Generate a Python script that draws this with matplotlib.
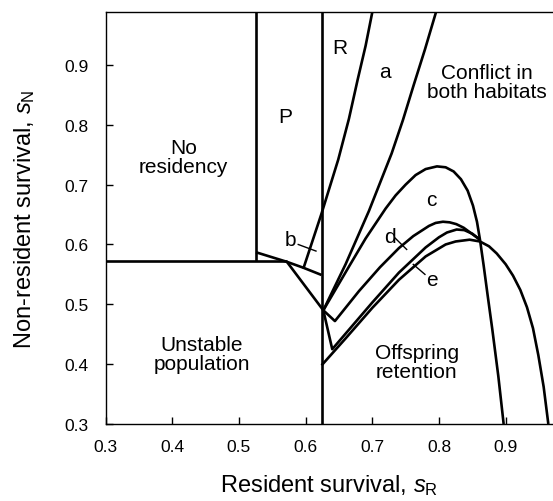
import matplotlib
matplotlib.use("Agg")
import matplotlib.pyplot as plt

plt.rcParams['font.family'] = ['Liberation Sans', 'DejaVu Sans']
plt.rcParams['mathtext.fontset'] = 'custom'
plt.rcParams['mathtext.rm'] = 'Liberation Sans'
plt.rcParams['mathtext.it'] = 'Liberation Sans:italic'

# boundary curves (resident survival, non-resident survival)
left_vert_x = [0.5256, 0.5256]
left_vert_y = [0.988, 0.5717]

horiz_x = [0.30, 0.572]
horiz_y = [0.5717, 0.5717]

main_vert_x = [0.624, 0.624]
main_vert_y = [0.988, 0.30]

p_bottom_x = [0.5256, 0.572, 0.597, 0.624]
p_bottom_y = [0.587, 0.571, 0.561, 0.549]

drop_x = [0.572, 0.6266]
drop_y = [0.571, 0.490]

r_curve_x = [0.5966, 0.624, 0.649, 0.665, 0.678, 0.690, 0.700]
r_curve_y = [0.5595, 0.652, 0.742, 0.810, 0.875, 0.932, 0.988]

a_curve_x = [0.6266, 0.660, 0.695, 0.729, 0.746, 0.762, 0.779, 0.7955]
a_curve_y = [0.490, 0.567, 0.656, 0.752, 0.808, 0.866, 0.926, 0.988]

c_curve_x = [0.6266, 0.645, 0.665, 0.690, 0.720, 0.735, 0.750, 0.765, 0.780,
             0.797, 0.810, 0.822, 0.833, 0.843, 0.851, 0.857, 0.8615, 0.867,
             0.873, 0.880, 0.889, 0.897]
c_curve_y = [0.490, 0.525, 0.563, 0.610, 0.660, 0.682, 0.700, 0.716, 0.726,
             0.7305, 0.729, 0.722, 0.709, 0.690, 0.665, 0.638, 0.608, 0.565,
             0.515, 0.458, 0.380, 0.300]

d_curve_x = [0.6266, 0.644, 0.680, 0.7116, 0.740, 0.7615, 0.785, 0.795, 0.806,
             0.816, 0.826, 0.837, 0.848, 0.8615]
d_curve_y = [0.490, 0.472, 0.522, 0.562, 0.594, 0.614, 0.631, 0.636, 0.638,
             0.637, 0.634, 0.628, 0.619, 0.608]

mid_curve_x = [0.6266, 0.640, 0.660, 0.700, 0.740, 0.780, 0.800, 0.812, 0.8265,
               0.838, 0.850, 0.8615]
mid_curve_y = [0.490, 0.425, 0.451, 0.503, 0.553, 0.595, 0.612, 0.620, 0.625,
               0.624, 0.618, 0.608]

e_curve_x = [0.624, 0.660, 0.700, 0.740, 0.780, 0.810, 0.825, 0.846, 0.8615,
             0.875, 0.8866, 0.900, 0.911, 0.922, 0.932, 0.941, 0.949, 0.957,
             0.964]
e_curve_y = [0.398, 0.443, 0.494, 0.541, 0.580, 0.600, 0.605, 0.608, 0.605,
             0.597, 0.585, 0.567, 0.548, 0.524, 0.495, 0.460, 0.415, 0.362,
             0.300]

curves = [
    (left_vert_x, left_vert_y), (horiz_x, horiz_y), (main_vert_x, main_vert_y),
    (p_bottom_x, p_bottom_y), (drop_x, drop_y), (r_curve_x, r_curve_y),
    (a_curve_x, a_curve_y), (c_curve_x, c_curve_y), (d_curve_x, d_curve_y),
    (mid_curve_x, mid_curve_y), (e_curve_x, e_curve_y),
]

# leader ticks for the narrow regions
leaders = {
    'b': ([0.589, 0.6156], [0.600, 0.589]),
    'd': ([0.734, 0.7516], [0.611, 0.5917]),
    'e': ([0.7615, 0.779], [0.5667, 0.550]),
}

region_labels = [
    ("No\nresidency", 0.4166, 0.747),
    ("Unstable\npopulation", 0.444, 0.4167),
    ("Offspring\nretention", 0.7666, 0.403),
    ("Conflict in\nboth habitats", 0.8715, 0.872),
    ("P", 0.569, 0.814),
    ("R", 0.6516, 0.930),
    ("a", 0.719, 0.889),
    ("b", 0.577, 0.608),
    ("c", 0.789, 0.675),
    ("d", 0.7266, 0.614),
    ("e", 0.789, 0.5417),
]

ticks = [0.3, 0.4, 0.5, 0.6, 0.7, 0.8, 0.9]

fig = plt.figure(figsize=(5.53, 5.02), dpi=100)
ax = fig.add_axes([0.1908, 0.1534, 0.8092, 0.8201])

for xs, ys in curves:
    ax.plot(xs, ys, color='black', lw=1.9, solid_joinstyle='round',
            solid_capstyle='butt', clip_on=True)

for xs, ys in leaders.values():
    ax.plot(xs, ys, color='black', lw=1.0)

for txt, x, y in region_labels:
    ax.text(x, y, txt, ha='center', va='center', fontsize=15, linespacing=1.0)

ax.set_xlim(0.3, 0.971)
ax.set_ylim(0.3, 0.988)
ax.set_xticks(ticks)
ax.set_yticks(ticks)
ax.set_xticklabels([f"{t:.1f}" for t in ticks])
ax.set_yticklabels([f"{t:.1f}" for t in ticks])
ax.tick_params(direction='in', length=5, width=1, labelsize=12.5)
ax.tick_params(axis='x', pad=11)
ax.tick_params(axis='y', pad=12)
ax.spines['right'].set_visible(False)
for s in ['left', 'bottom', 'top']:
    ax.spines[s].set_linewidth(1.0)

ax.set_xlabel(r"Resident survival, $s_\mathrm{R}$", fontsize=17, labelpad=13)
ax.set_ylabel(r"Non-resident survival, $s_\mathrm{N}$", fontsize=17, labelpad=20)

fig.savefig("out.png", dpi=100)
